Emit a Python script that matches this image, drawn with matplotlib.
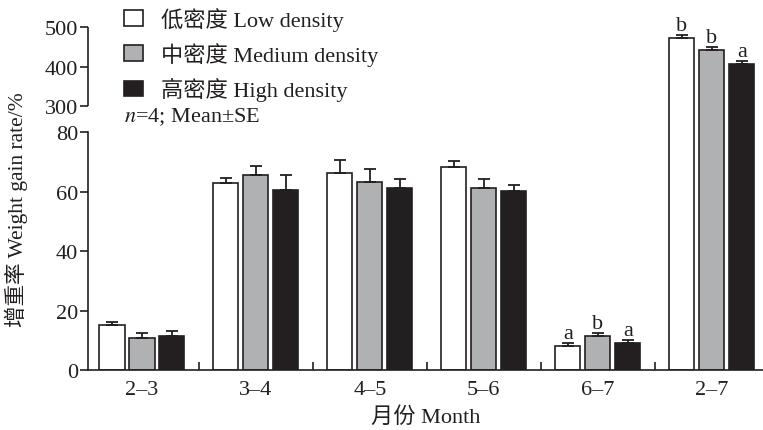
import numpy as np
import matplotlib
matplotlib.use("Agg")
import matplotlib.pyplot as plt
from matplotlib.patches import Patch

plt.rcParams['font.family'] = ['Liberation Serif', 'Noto Sans CJK SC', 'DejaVu Sans']
plt.rcParams['mathtext.fontset'] = 'stix'

# data
months = ['2–3', '3–4', '4–5', '5–6', '6–7', '2–7']
low = [15.0, 63.1, 66.4, 68.5, 8.0, 472.7]
low_se = [1.2, 1.6, 4.4, 1.8, 1.0, 8.5]
medium = [10.8, 65.6, 63.4, 61.4, 11.5, 443.8]
medium_se = [1.5, 3.1, 4.3, 3.0, 0.9, 8.0]
high = [11.3, 60.5, 61.3, 60.4, 9.1, 406.8]
high_se = [1.8, 5.1, 2.9, 2.0, 0.9, 8.0]
letters_67 = ['a', 'b', 'a']
letters_27 = ['b', 'b', 'a']

ink = '#231f20'
colors = ['white', '#b0b1b3', ink]
names = ['低密度 Low density', '中密度 Medium density', '高密度 High density']
fs = 16


# broken y axis: 0-80 linear, then 300-500 compressed
def fwd(v):
    v = np.asarray(v, dtype=float)
    return np.where(v <= 80, v,
                    np.where(v >= 300, 88.74 + (v - 300) * 0.1328,
                             80 + (v - 80) * (8.74 / 220)))


def inv(u):
    u = np.asarray(u, dtype=float)
    return np.where(u <= 80, u,
                    np.where(u >= 88.74, 300 + (u - 88.74) / 0.1328,
                             80 + (u - 80) * (220 / 8.74)))


fig = plt.figure(figsize=(7.63, 4.31), dpi=100)
ax = fig.add_axes([0.1153, 0.1392, 0.8847, 0.7947])
ax.set_yscale('function', functions=(fwd, inv))

x = np.arange(len(months))
w = 0.22
offsets = [-0.263, 0, 0.263]
series = [(low, low_se), (medium, medium_se), (high, high_se)]
for i, (vals, se) in enumerate(series):
    xs = x + offsets[i]
    ax.bar(xs, vals, w, color=colors[i], edgecolor=ink, linewidth=1.2, zorder=2)
    ax.errorbar(xs, vals, yerr=[np.zeros(len(se)), se], fmt='none',
                ecolor=ink, elinewidth=1.3, capsize=4.5, capthick=1.3, zorder=3)
    for j, labs in ((4, letters_67), (5, letters_27)):
        ax.annotate(labs[i], (xs[j], vals[j] + se[j]), xytext=(0, 0),
                    textcoords='offset points', ha='center', va='bottom',
                    fontsize=fs, color=ink)

ax.set_xlim(-0.474, 5.45)
ax.set_ylim(0, 500)
ax.set_yticks([0, 20, 40, 60, 80, 300, 400, 500])
ax.set_yticklabels(['0', '20', '40', '60', '80', '300', '400', '500'])
ax.set_xticks(x)
ax.set_xticklabels(months)
ax.set_xticks(x[:-1] + 0.5, minor=True)
ax.tick_params(axis='x', which='major', length=0, pad=7, labelsize=fs, colors=ink)
ax.tick_params(axis='x', which='minor', direction='in', length=6, width=1.2, color=ink)
ax.tick_params(axis='y', which='major', direction='out', length=6, width=1.2,
               labelsize=fs, colors=ink, pad=1)
ax.yaxis.set_minor_locator(matplotlib.ticker.NullLocator())

for s in ['top', 'right']:
    ax.spines[s].set_visible(False)
for s in ['left', 'bottom']:
    ax.spines[s].set_color(ink)
    ax.spines[s].set_linewidth(1.2)
ax.spines['left'].set_bounds(0, 80)
ax.vlines(ax.get_xlim()[0], 300, 500, color=ink, linewidth=1.2, clip_on=False, zorder=4)

ax.set_xlabel('月份 Month', fontsize=fs, color=ink, labelpad=5)
ax.set_ylabel('增重率 Weight gain rate/%', fontsize=15.5, color=ink)
ax.yaxis.set_label_coords(-0.089, 0.47)

handles = [Patch(facecolor=c, edgecolor=ink, linewidth=1.2) for c in colors]
fig.legend(handles, names, loc='upper left', bbox_to_anchor=(124 / 763, 1 - 8 / 431),
           frameon=False, fontsize=fs, handlelength=0.86, handleheight=0.68,
           handletextpad=0.8, labelspacing=0.5, borderpad=0, borderaxespad=0,
           labelcolor=ink)
fig.text(124 / 763, 1 - 117 / 431, '$n$=4; Mean±SE', fontsize=fs, color=ink,
         ha='left', va='center')

fig.savefig('out.png', dpi=100)
